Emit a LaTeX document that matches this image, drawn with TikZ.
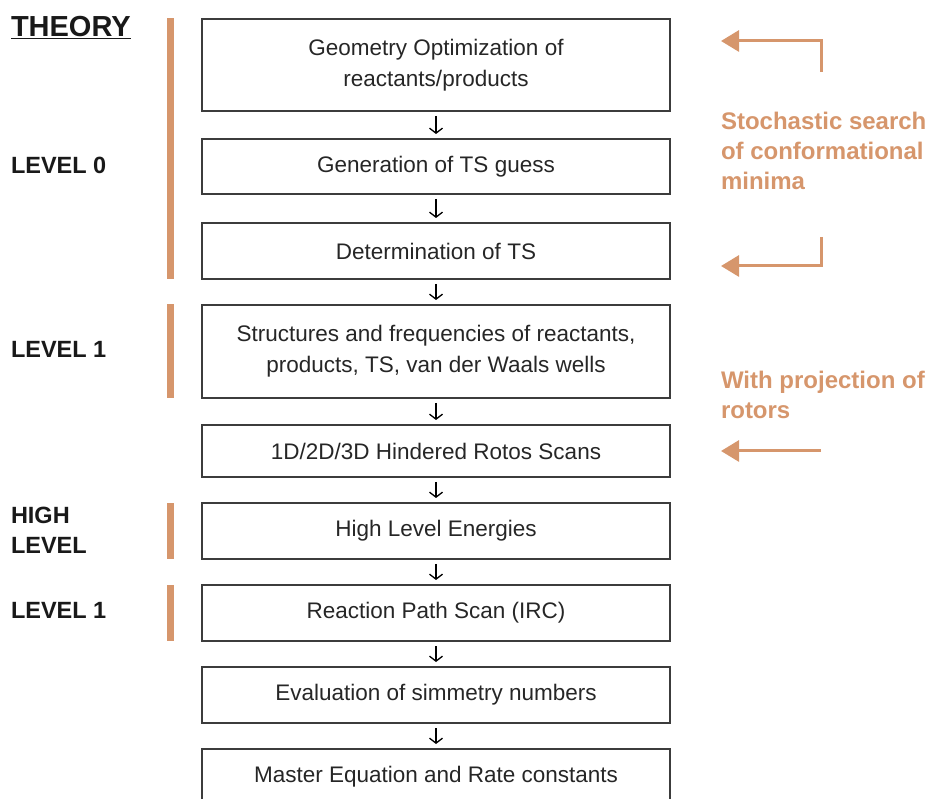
\documentclass[tikz,border=0pt]{standalone}
\usepackage{fontspec}
\setmainfont{Liberation Sans}
\usetikzlibrary{arrows.meta}
\definecolor{barorange}{RGB}{214,150,108}
\definecolor{boxgray}{RGB}{60,60,60}
\begin{document}
\begin{tikzpicture}[x=1pt,y=-1pt]
\tikzset{ >={Straight Barb[length=5pt,width=13pt]}, inner sep=0pt, outer sep=0pt,
  box/.style={draw=boxgray, line width=1.3pt, minimum width=468pt, text=black!85,
              font=\fontsize{22.5}{31}\selectfont, align=center},
  lbl/.style={anchor=west, align=left, text=black!90, font=\fontsize{23.5}{30}\bfseries\selectfont},
  note/.style={anchor=north west, align=left, text=barorange, font=\fontsize{24}{30}\bfseries\selectfont},
  flow/.style={->, line width=1.3pt, shorten <=5pt, shorten >=5pt},
  back/.style={-{Triangle[length=18pt,width=21pt]}, draw=barorange, line width=3pt},
}
\useasboundingbox (0,0) rectangle (938,799);
%\draw [lightgray, dashed](0,0) grid [step=50] (938,799);

\node [box, minimum height=92pt] (geom)   at (436,65)    {Geometry Optimization of\\reactants/products};
\node [box, minimum height=55pt] (guess)  at (436,166.5) {Generation of TS guess};
\node [box, minimum height=56pt] (ts)     at (436,251)   {Determination of TS};
\node [box, minimum height=93pt] (freq)   at (436,351.5) {Structures and frequencies of reactants,\\products, TS, van der Waals wells};
\node [box, minimum height=52pt] (rotor)  at (436,451)   {1D/2D/3D Hindered Rotos Scans};
\node [box, minimum height=56pt] (energy) at (436,531)   {High Level Energies};
\node [box, minimum height=56pt] (irc)    at (436,613)   {Reaction Path Scan (IRC)};
\node [box, minimum height=56pt] (symm)   at (436,695)   {Evaluation of simmetry numbers};
\node [box, minimum height=56pt] (master) at (436,777)   {Master Equation and Rate constants};

\draw [flow] (geom)   -- (guess);
\draw [flow] (guess)  -- (ts);
\draw [flow] (ts)     -- (freq);
\draw [flow] (freq)   -- (rotor);
\draw [flow] (rotor)  -- (energy);
\draw [flow] (energy) -- (irc);
\draw [flow] (irc)    -- (symm);
\draw [flow] (symm)   -- (master);

\fill [barorange] (167,18)  rectangle (174,279);
\fill [barorange] (167,304) rectangle (174,398);
\fill [barorange] (167,503) rectangle (174,559);
\fill [barorange] (167,585) rectangle (174,641);

\node [lbl, anchor=base west, font=\fontsize{29}{30}\bfseries\selectfont] (theory) at (11,37) {\underline{THEORY}};
\node [lbl] (lvzero) at (11,165) {LEVEL 0};
\node [lbl] (lvone)  at (11,349) {LEVEL 1};
\node [lbl] (lvhigh) at (11,530) {HIGH\\LEVEL};
\node [lbl] (lvirc)  at (11,610) {LEVEL 1};

\node [note] (stoch) at (721,112.5) {Stochastic search\\of conformational\\minima};
\node [note] (proj)  at (721,371.5) {With projection of\\rotors};

\coordinate (sa) at (821,72);  \coordinate (ta) at (721,41);
\coordinate (sb) at (821,237); \coordinate (tb) at (721,266);
\coordinate (sc) at (821,451); \coordinate (tc) at (721,451);

\draw [back] (sa) |- (ta);
\draw [back] (sb) |- (tb);
\draw [back] (sc) -- (tc);

\end{tikzpicture}
\end{document}
